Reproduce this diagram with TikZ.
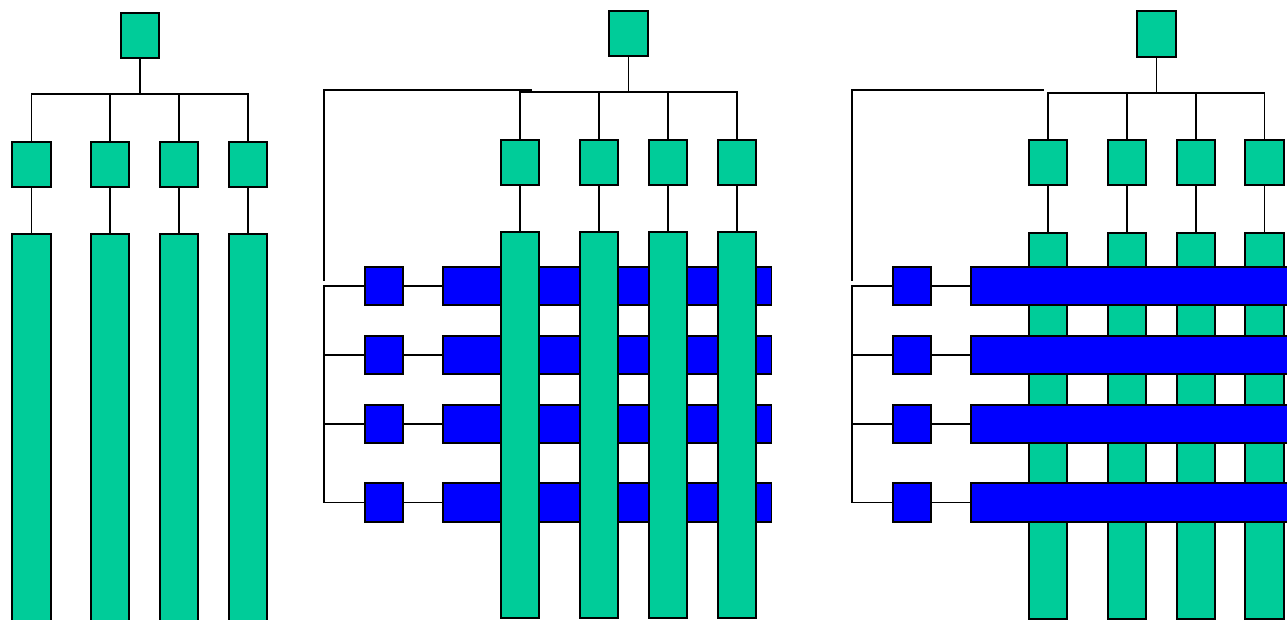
\documentclass[tikz,border=0pt]{standalone}
\usepackage{xcolor}
\usepackage{tikz}
\usetikzlibrary{positioning}
\definecolor{jade}{RGB}{0,204,153}
\definecolor{pureblue}{RGB}{0,0,255}

\begin{document}
\begin{tikzpicture}[
    x=1pt, y=-1pt, line width=1.6pt,
    unit/.style={rectangle, draw=black, fill=jade, minimum width=38.5pt, minimum height=45.5pt, inner sep=0pt},
    strip/.style={rectangle, draw=black, fill=jade, minimum width=38.5pt, inner sep=0pt},
    port/.style={rectangle, draw=black, fill=pureblue, minimum size=38.5pt, inner sep=0pt},
    lane/.style={rectangle, draw=black, fill=pureblue, minimum width=328.5pt, minimum height=38.5pt, inner sep=0pt}
]
    \useasboundingbox (0,0) rectangle (1287,620);
    \clip (0,0) rectangle (1287,620);

    \node[unit] (root1) at (140,35.5) {};
    \node[unit] (u11) at (31.5,164.5) {};
    \node[unit] (u12) at (110,164.5) {};
    \node[unit] (u13) at (179,164.5) {};
    \node[unit] (u14) at (248,164.5) {};
    \node[strip, minimum height=406pt, below=45pt of u11] (s11) {};
    \node[strip, minimum height=406pt, below=45pt of u12] (s12) {};
    \node[strip, minimum height=406pt, below=45pt of u13] (s13) {};
    \node[strip, minimum height=406pt, below=45pt of u14] (s14) {};
    \coordinate (j1) at (140,94);
    \draw (root1) -- (j1);
    \draw (u11) |- (j1) -| (u14);
    \draw (u12) -- (u12 |- j1);
    \draw (u13) -- (u13 |- j1);
    \draw (u11) -- (s11);
    \draw (u12) -- (s12);
    \draw (u13) -- (s13);
    \draw (u14) -- (s14);

    \node[unit] (root2) at (628.5,33.5) {};
    \node[unit] (u21) at (520,162.5) {};
    \node[unit] (u22) at (599,162.5) {};
    \node[unit] (u23) at (668,162.5) {};
    \node[unit] (u24) at (737,162.5) {};
    \node[port] (p21) at (384,286) {};
    \node[port] (p22) at (384,355) {};
    \node[port] (p23) at (384,424) {};
    \node[port] (p24) at (384,502.5) {};
    \node[lane, right=38pt of p21] (w21) {};
    \node[lane, right=38pt of p22] (w22) {};
    \node[lane, right=38pt of p23] (w23) {};
    \node[lane, right=38pt of p24] (w24) {};
    \node[strip, minimum height=386pt, below=45pt of u21] (s21) {};
    \node[strip, minimum height=386pt, below=45pt of u22] (s22) {};
    \node[strip, minimum height=386pt, below=45pt of u23] (s23) {};
    \node[strip, minimum height=386pt, below=45pt of u24] (s24) {};
    \coordinate (j2) at (628.5,92);
    \coordinate (k21) at (532,90);
    \coordinate (k22) at (324,281);
    \draw (root2) -- (j2);
    \draw (u21) |- (j2) -| (u24);
    \draw (u22) -- (u22 |- j2);
    \draw (u23) -- (u23 |- j2);
    \draw (u21) -- (s21);
    \draw (u22) -- (s22);
    \draw (u23) -- (s23);
    \draw (u24) -- (s24);
    \draw (k21) -| (k22);
    \draw (p21) -- (p21 -| k22) |- (p24);
    \draw (p22) -- (p22 -| k22);
    \draw (p23) -- (p23 -| k22);
    \draw (p21) -- (w21);
    \draw (p22) -- (w22);
    \draw (p23) -- (w23);
    \draw (p24) -- (w24);

    \node[unit] (root3) at (1156.5,34) {};
    \node[unit] (u31) at (1048,162.5) {};
    \node[unit] (u32) at (1127,162.5) {};
    \node[unit] (u33) at (1196,162.5) {};
    \node[unit] (u34) at (1264.5,162.5) {};
    \node[strip, minimum height=386pt, below=46pt of u31] (s31) {};
    \node[strip, minimum height=386pt, below=46pt of u32] (s32) {};
    \node[strip, minimum height=386pt, below=46pt of u33] (s33) {};
    \node[strip, minimum height=386pt, below=46pt of u34] (s34) {};
    \node[port] (p31) at (912,286) {};
    \node[port] (p32) at (912,355) {};
    \node[port] (p33) at (912,424) {};
    \node[port] (p34) at (912,502.5) {};
    \node[lane, right=38pt of p31] (w31) {};
    \node[lane, right=38pt of p32] (w32) {};
    \node[lane, right=38pt of p33] (w33) {};
    \node[lane, right=38pt of p34] (w34) {};
    \coordinate (j3) at (1156.5,93);
    \coordinate (k31) at (1044,90);
    \coordinate (k32) at (852,281);
    \draw (root3) -- (j3);
    \draw (u31) |- (j3) -| (u34);
    \draw (u32) -- (u32 |- j3);
    \draw (u33) -- (u33 |- j3);
    \draw (u31) -- (s31);
    \draw (u32) -- (s32);
    \draw (u33) -- (s33);
    \draw (u34) -- (s34);
    \draw (k31) -| (k32);
    \draw (p31) -- (p31 -| k32) |- (p34);
    \draw (p32) -- (p32 -| k32);
    \draw (p33) -- (p33 -| k32);
    \draw (p31) -- (w31);
    \draw (p32) -- (w32);
    \draw (p33) -- (w33);
    \draw (p34) -- (w34);
\end{tikzpicture}
\end{document}
